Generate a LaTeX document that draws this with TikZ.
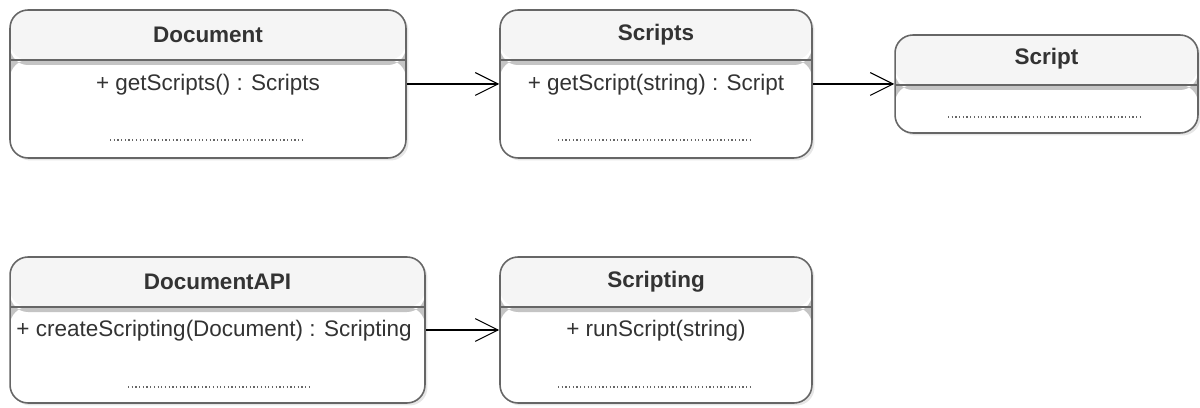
\documentclass[tikz,border=0pt]{standalone}
\usepackage{fontspec}
\setmainfont{Liberation Sans}
\usetikzlibrary{arrows.meta,shadows}
\definecolor{hdrgray}{HTML}{F5F5F5}
\definecolor{sepgray}{HTML}{C4C4C4}
\definecolor{linegray}{HTML}{666666}
\definecolor{txtgray}{HTML}{333333}
\tikzset{
	cls/.style={draw=linegray, line width=0.9pt, fill=white, rounded corners=0.36cm, inner sep=0pt,
		drop shadow={opacity=0.2, shadow xshift=0.05cm, shadow yshift=-0.05cm},
		path picture={
			\fill[hdrgray] (path picture bounding box.north west) rectangle ([yshift=-1cm]path picture bounding box.north east);
			\fill[sepgray] ([yshift=-1cm]path picture bounding box.north west) rectangle ([yshift=-1.1cm]path picture bounding box.north east);
			\draw[linegray, line width=0.9pt] ([yshift=-1cm]path picture bounding box.north west) -- ([yshift=-1cm]path picture bounding box.north east);
		}},
	title/.style={font=\fontsize{12.8}{15}\selectfont\bfseries, text=txtgray},
	meth/.style={text=txtgray},
	dots/.style={draw=gray!80!black, line width=0.6pt, dash pattern=on 0.7pt off 1.4pt},
	assoc/.style={draw=black, line width=0.6pt, -{Straight Barb[length=13pt,width=13pt,line width=0.6pt]}},
}
\begin{document}
\begin{tikzpicture}[x=0.02cm, y=-0.02cm, font=\fontsize{12.8}{15}\selectfont]
	\useasboundingbox (0,0) rectangle (1200,408);

	% Верхний ряд
	\node[cls, minimum width=7.92cm, minimum height=2.96cm] (doc) at (208,84) {};
	\node[title] (doct) at (208,35) {Document};
	\node[meth] (docm) at (208,85) {+ getScripts() : Scripts};
	\draw[dots] (110,140) -- (303,140);

	\node[cls, minimum width=6.24cm, minimum height=2.96cm] (scripts) at (656,84) {};
	\node[title] (scriptst) at (656,35) {Scripts};
	\node[meth] (scriptsm) at (656,85) {+ getScript(string) : Script};
	\draw[dots] (558,140) -- (751,140);

	\node[cls, minimum width=6.06cm, minimum height=1.96cm] (script) at (1046.5,84) {};
	\node[title] (scriptt) at (1046.5,59) {Script};
	\draw[dots] (948,117) -- (1141,117);

	% Нижний ряд
	\node[cls, minimum width=8.3cm, minimum height=2.92cm] (api) at (217.5,330) {};
	\node[title] (apit) at (217.5,282) {DocumentAPI};
	\node[meth] (apim) at (214,331) {+ createScripting(Document) : Scripting};
	\draw[dots] (128,387) -- (312,387);

	\node[cls, minimum width=6.24cm, minimum height=2.92cm] (scripting) at (656,330) {};
	\node[title] (scriptingt) at (656,282) {Scripting};
	\node[meth] (scriptingm) at (656,331) {+ runScript(string)};
	\draw[dots] (558,387) -- (751,387);

	% Связи
	\draw[assoc] (doc) -- (scripts);
	\draw[assoc] (scripts) -- (script);
	\draw[assoc] (api) -- (scripting);
\end{tikzpicture}
\end{document}
